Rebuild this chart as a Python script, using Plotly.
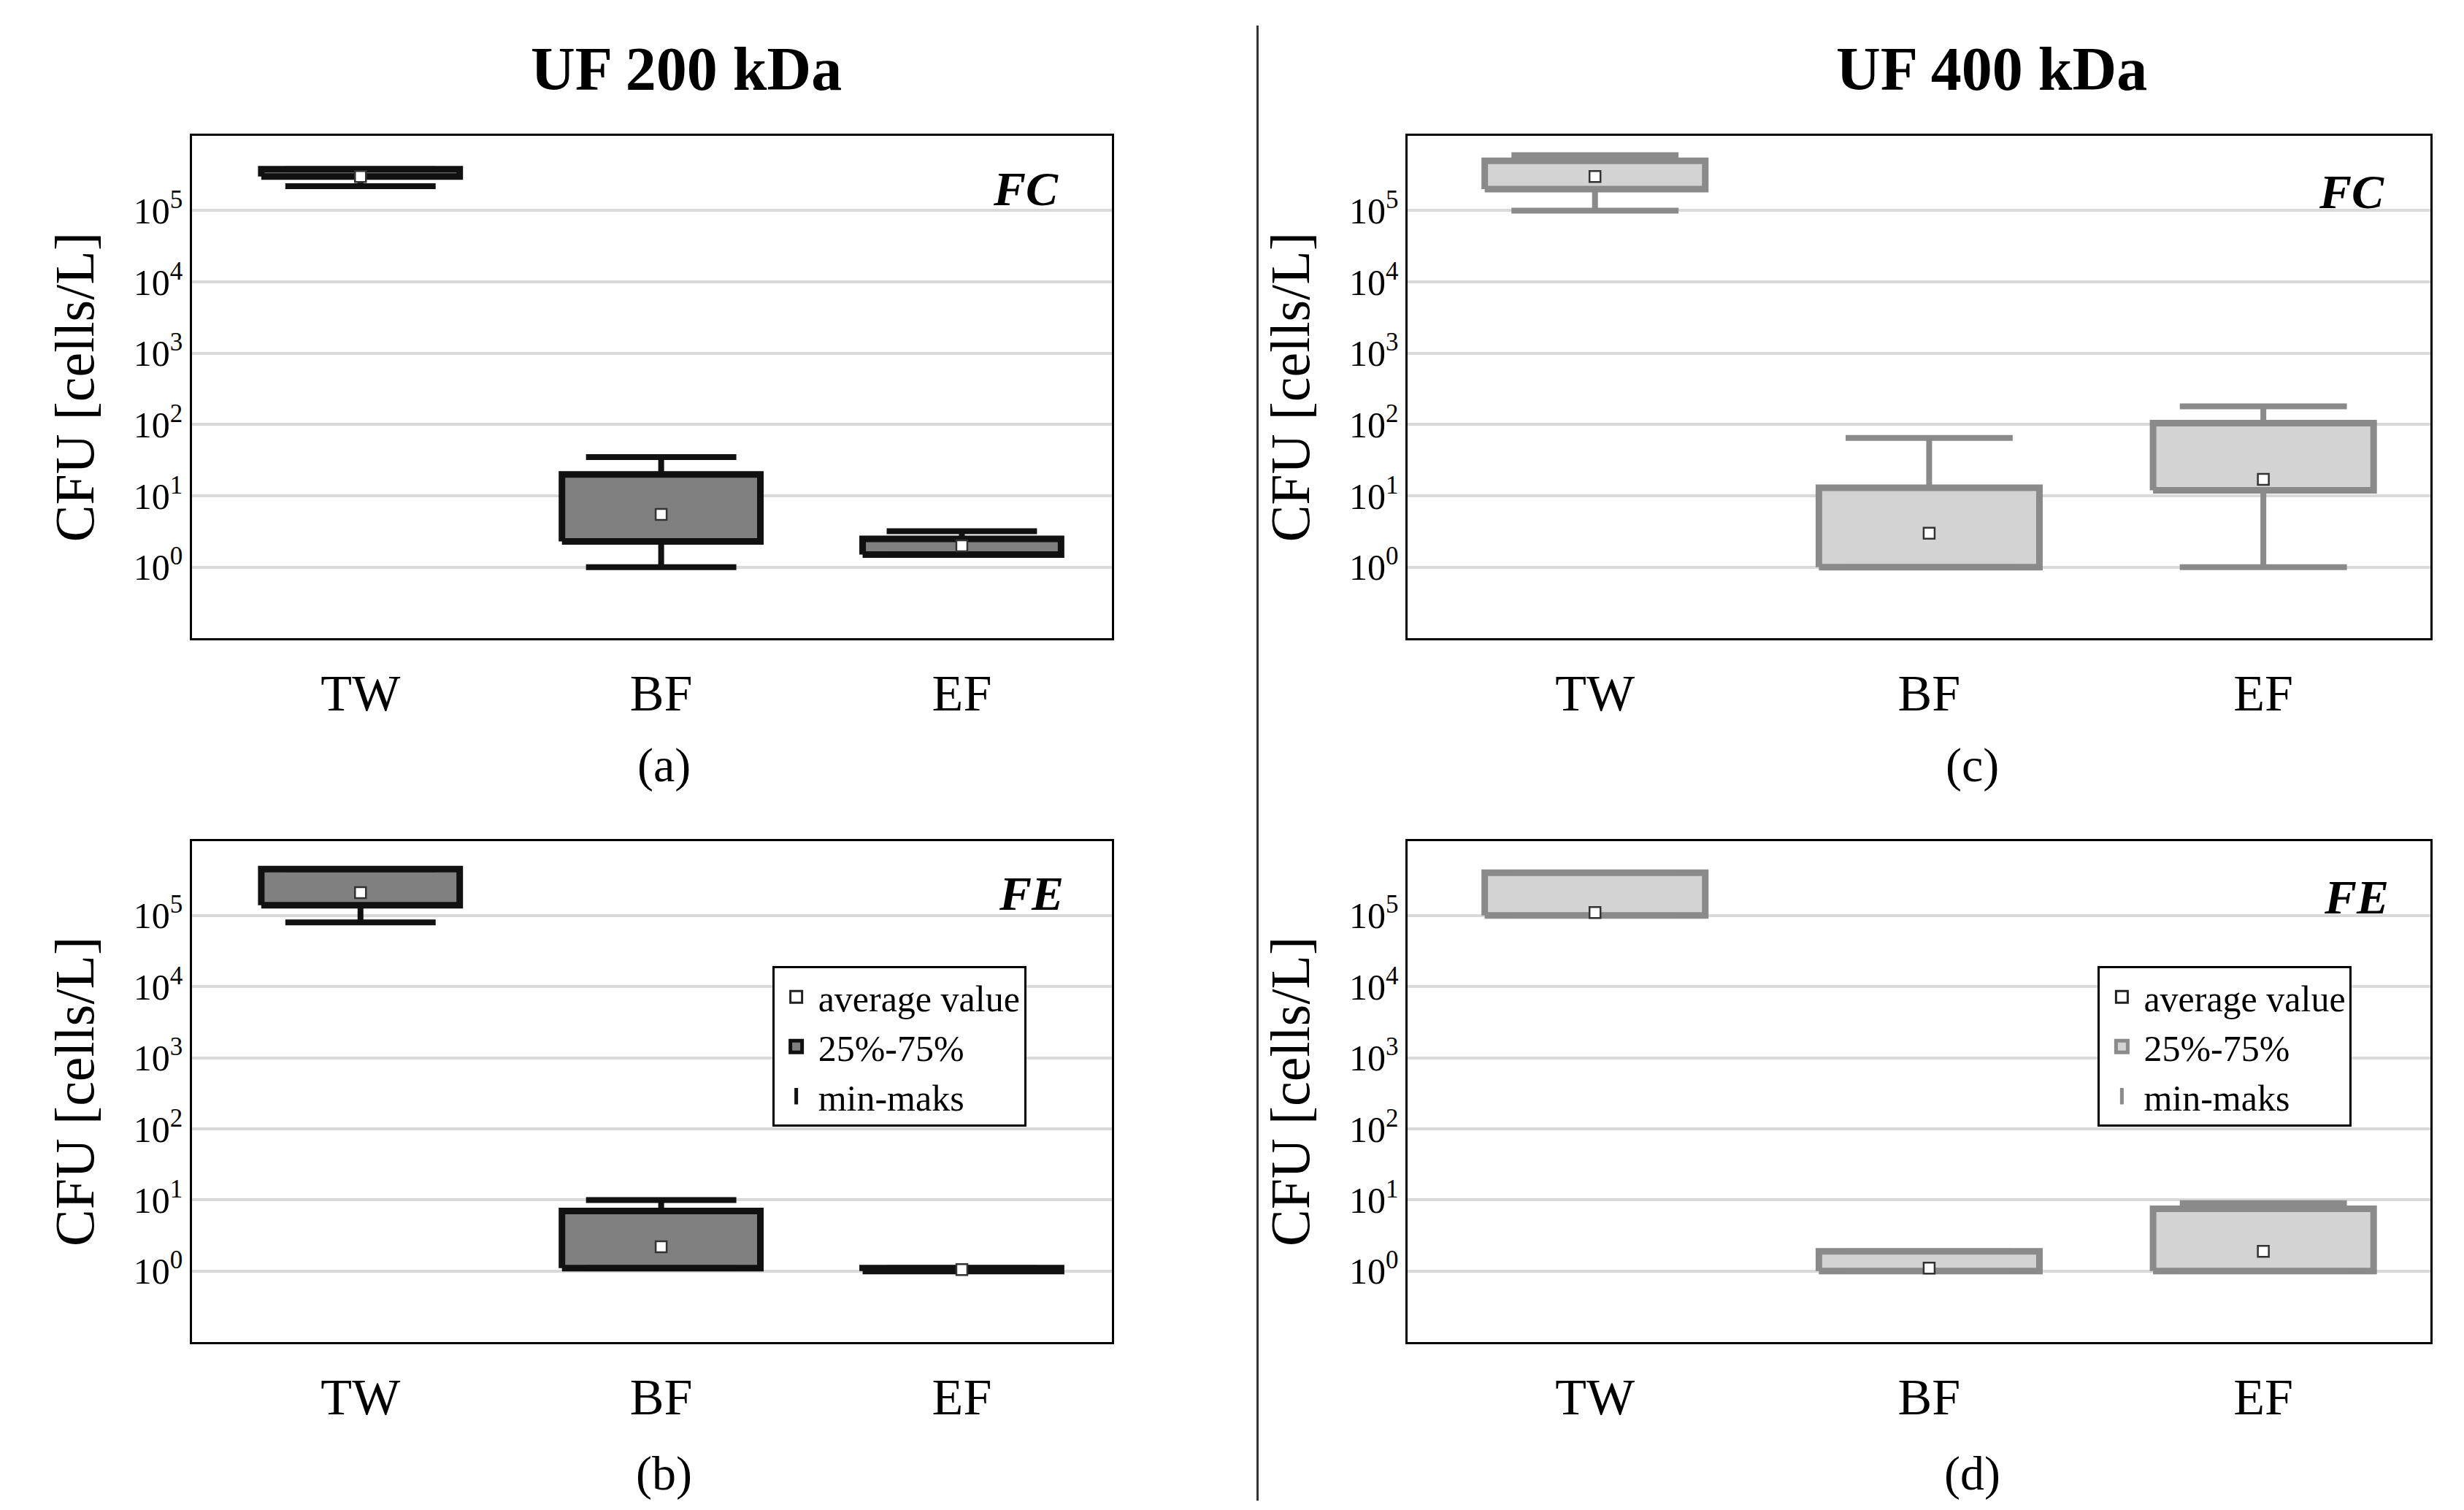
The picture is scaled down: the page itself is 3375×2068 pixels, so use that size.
import plotly.graph_objects as go

cats = ["TW", "BF", "EF"]
# panel data: q1, q3, min, max, mean (cells/L)
a_q1 = [3.0e5, 2.3, 1.5]; a_q3 = [3.8e5, 20, 2.5]; a_min = [2.2e5, 1.0, 1.5]; a_max = [3.8e5, 35, 3.2]; a_mean = [3.0e5, 5.5, 2.0]
b_q1 = [1.4e5, 1.1, 1.0]; b_q3 = [4.5e5, 7.0, 1.1]; b_min = [8.0e4, 1.1, 1.0]; b_max = [4.5e5, 10, 1.1]; b_mean = [2.1e5, 2.2, 1.05]
c_q1 = [2.0e5, 1.0, 12]; c_q3 = [5.0e5, 13, 105]; c_min = [1.0e5, 1.0, 1.0]; c_max = [6.0e5, 65, 180]; c_mean = [3.0e5, 3.0, 17]
d_q1 = [1.0e5, 1.0, 1.0]; d_q3 = [4.0e5, 1.9, 7.5]; d_min = [1.0e5, 1.0, 1.0]; d_max = [4.0e5, 1.9, 9.0]; d_mean = [1.1e5, 1.1, 1.9]

FONT = "Liberation Serif"
dark = dict(fill="#808080", line="#111111")
light = dict(fill="#d3d3d3", line="#8a8a8a")
panels = [
    ("a", a_q1, a_q3, a_min, a_max, a_mean, dark, [0.0756, 0.449], [0.581, 0.914]),
    ("b", b_q1, b_q3, b_min, b_max, b_mean, dark, [0.0756, 0.449], [0.115, 0.447]),
    ("c", c_q1, c_q3, c_min, c_max, c_mean, light, [0.569, 0.984], [0.581, 0.914]),
    ("d", d_q1, d_q3, d_min, d_max, d_mean, light, [0.569, 0.984], [0.115, 0.447]),
]
BW, CW = 0.33, 0.25
fig = go.Figure()
layout = {}
for k, (name, q1, q3, mn, mx, mean, col, xd, yd) in enumerate(panels):
    ax = "" if k == 0 else str(k + 1)
    xa, ya = "x" + ax, "y" + ax
    for i in range(3):
        fig.add_trace(go.Scatter(x=[i-BW, i+BW, i+BW, i-BW, i-BW], y=[q1[i], q1[i], q3[i], q3[i], q1[i]],
                                 fill="toself", fillcolor=col["fill"], mode="lines",
                                 line=dict(color=col["line"], width=9), xaxis=xa, yaxis=ya, showlegend=False, hoverinfo="skip"))
        for seg in ([mn[i], q1[i]], [q3[i], mx[i]]):
            fig.add_trace(go.Scatter(x=[i, i], y=seg, mode="lines", line=dict(color=col["line"], width=8),
                                     xaxis=xa, yaxis=ya, showlegend=False, hoverinfo="skip"))
        for v in (mn[i], mx[i]):
            fig.add_trace(go.Scatter(x=[i-CW, i+CW], y=[v, v], mode="lines", line=dict(color=col["line"], width=8),
                                     xaxis=xa, yaxis=ya, showlegend=False, hoverinfo="skip"))
    fig.add_trace(go.Scatter(x=[0, 1, 2], y=mean, mode="markers",
                             marker=dict(symbol="square", size=15, color="white", line=dict(color="#333", width=2.5)),
                             xaxis=xa, yaxis=ya, showlegend=False))
    if name in ("b", "d"):
        lg = "legend" if name == "b" else "legend2"
        fig.add_trace(go.Scatter(x=[None], y=[None], mode="markers", name="average value", legend=lg,
                                 marker=dict(symbol="square", size=18, color="white", line=dict(color="#222", width=3))))
        fig.add_trace(go.Scatter(x=[None], y=[None], mode="markers", name="25%-75%", legend=lg,
                                 marker=dict(symbol="square", size=34, color=col["fill"], line=dict(color=col["line"], width=5))))
        fig.add_trace(go.Scatter(x=[None], y=[None], mode="markers", name="min-maks", legend=lg,
                                 marker=dict(symbol="line-ns", size=36, line=dict(color=col["line"], width=7))))
    layout["xaxis" + ax] = dict(domain=xd, anchor=ya, range=[-0.56, 2.5], tickvals=[0, 1, 2], ticktext=cats,
                                showline=True, mirror=True, linecolor="black", linewidth=3, showgrid=False,
                                zeroline=False, ticks="", tickfont=dict(family=FONT, size=70, color="black"),
                                ticklabelstandoff=12)
    layout["yaxis" + ax] = dict(domain=yd, anchor=xa, type="log", range=[-1.0, 6.05],
                                tickvals=[1, 10, 100, 1e3, 1e4, 1e5],
                                ticktext=["10<sup>%d</sup>" % e for e in range(6)],
                                showline=True, mirror=True, linecolor="black", linewidth=3,
                                gridcolor="#d9d9d9", gridwidth=4, zeroline=False, ticks="",
                                tickfont=dict(family=FONT, size=50, color="black"),
                                title=dict(text="CFU [cells/L]", font=dict(family=FONT, size=76, color="black"), standoff=30))

legcommon = dict(font=dict(family=FONT, size=50, color="black"), bordercolor="black", borderwidth=3,
                 bgcolor="white", xanchor="left", yanchor="top", itemsizing="trace", tracegroupgap=0, itemwidth=50)
fig.update_layout(**layout, width=3375, height=2068, plot_bgcolor="white", paper_bgcolor="white",
                  margin=dict(l=0, r=0, t=0, b=0),
                  legend=dict(x=0.311, y=0.364, **legcommon), legend2=dict(x=0.849, y=0.364, **legcommon))

ann = [("<b>UF 200 kDa</b>", 0.276, 0.958, 84), ("<b>UF 400 kDa</b>", 0.806, 0.958, 84),
       ("(a)", 0.267, 0.497, 66), ("(b)", 0.267, 0.028, 66),
       ("(c)", 0.798, 0.497, 66), ("(d)", 0.798, 0.028, 66),
       ("<b><i>FC</i></b>", 0.414, 0.879, 66), ("<b><i>FE</i></b>", 0.416, 0.412, 66),
       ("<b><i>FC</i></b>", 0.952, 0.877, 66), ("<b><i>FE</i></b>", 0.954, 0.410, 66)]
for t, x, y, s in ann:
    fig.add_annotation(text=t, x=x, y=y, xref="paper", yref="paper", showarrow=False,
                       xanchor="center", yanchor="middle",
                       font=dict(family=FONT, size=s, color="black"))
fig.add_shape(type="line", xref="paper", yref="paper", x0=0.508, x1=0.508, y0=0.01, y1=0.987,
              line=dict(color="#333", width=3))
fig.write_html("out.html")
